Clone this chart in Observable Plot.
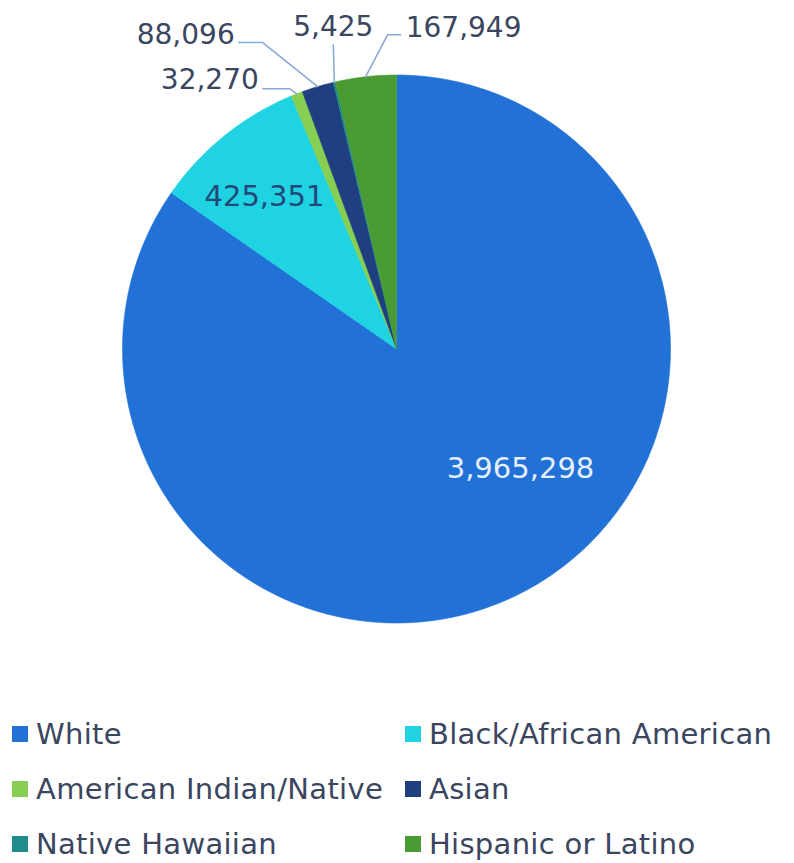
<!DOCTYPE html>
<html><head><meta charset="utf-8">
<script src="https://cdn.jsdelivr.net/npm/d3@7"></script>
<script src="https://cdn.jsdelivr.net/npm/@observablehq/plot@0.6"></script>
<style>
body{margin:0;background:#fff;font-family:"DejaVu Sans",sans-serif;}
#legend{display:grid;grid-template-columns:393px 389px;padding-left:12px;}
.item{height:55px;display:flex;align-items:center;font-size:29px;color:#3a4560;white-space:nowrap;letter-spacing:0.3px;}
.sw{width:16px;height:16px;margin-right:8px;flex:none;}
</style></head>
<body>
<div id="chart"></div>
<div id="legend"></div>
<script>
const categories = ["White","Black/African American","American Indian/Native","Asian","Native Hawaiian","Hispanic or Latino"];
const values = [3965298, 425351, 32270, 88096, 5425, 167949];
const colors = ["#2171d6","#1fd3e3","#86cf52","#1f3f80","#1f8b8c","#4b9b35"];
const labels = ["3,965,298","425,351","32,270","88,096","5,425","167,949"];

const W = 794, H = 706, cx = 396, cy = 348.5, R = 274;
const rows = categories.map((c, i) => ({cat: c, value: values[i], label: labels[i]}));
const arcs = d3.pie().sort(null).value(d => d.value)(rows);

// slice polygons (unit radius, y up)
const pts = [];
for (const a of arcs) {
  pts.push({cat: a.data.cat, x: 0, y: 0});
  const n = Math.max(2, Math.ceil((a.endAngle - a.startAngle) / 0.004));
  for (let k = 0; k <= n; k++) {
    const t = a.startAngle + (a.endAngle - a.startAngle) * k / n;
    pts.push({cat: a.data.cat, x: Math.sin(t), y: Math.cos(t)});
  }
  pts.push({cat: a.data.cat, x: 0, y: 0});
}

// layout (pixel offsets) for outside labels: elbow, end of leader, text offset from end, anchor
const outsideLayout = {
  "American Indian/Native": {elbow: [-7, -5], end: [-34, -5], text: [-4, -9], anchor: "end"},
  "Asian": {elbow: [-55, -44], end: [-79, -44], text: [-4, -8], anchor: "end"},
  "Native Hawaiian": {elbow: [-1, -37], end: [-1, -37], text: [0, -18], anchor: "middle"},
  "Hispanic or Latino": {elbow: [22, -42], end: [35, -42], text: [5, -7], anchor: "start"}
};
// inside labels in polar form (degrees clockwise from top, fraction of radius)
const insideLayout = {
  "White": {angle: 133.9, r: 0.628, color: "#e6effa"},
  "Black/African American": {angle: 319.1, r: 0.736, color: "#24477a"}
};

const leaderPts = [], outText = [], inText = [];
for (const a of arcs) {
  const c = a.data.cat;
  const mid = (a.startAngle + a.endAngle) / 2;
  const ex = Math.sin(mid), ey = Math.cos(mid);
  if (outsideLayout[c]) {
    const L = outsideLayout[c];
    leaderPts.push({cat: c, x: ex, y: ey});
    leaderPts.push({cat: c, x: ex + L.elbow[0] / R, y: ey - L.elbow[1] / R});
    leaderPts.push({cat: c, x: ex + L.end[0] / R, y: ey - L.end[1] / R});
    outText.push({label: a.data.label, anchor: L.anchor,
      x: ex + (L.end[0] + L.text[0]) / R, y: ey - (L.end[1] + L.text[1]) / R});
  } else if (insideLayout[c]) {
    const L = insideLayout[c], t = L.angle * Math.PI / 180;
    inText.push({label: a.data.label, color: L.color, x: L.r * Math.sin(t), y: L.r * Math.cos(t)});
  }
}

const font = "'DejaVu Sans', sans-serif";
const plot = Plot.plot({
  width: W, height: H, margin: 0,
  x: {domain: [-cx / R, (W - cx) / R], range: [0, W], axis: null},
  y: {domain: [-(H - cy) / R, cy / R], range: [H, 0], axis: null},
  color: {domain: categories, range: colors},
  style: {fontFamily: font, background: "white"},
  marks: [
    Plot.line(pts, {x: "x", y: "y", z: "cat", fill: "cat", stroke: "cat", strokeWidth: 0.6, curve: "linear"}),
    Plot.line(leaderPts, {x: "x", y: "y", z: "cat", stroke: "#8aa9d9", strokeWidth: 1.6, curve: "linear"}),
    ...["start", "middle", "end"].map(anc => Plot.text(outText.filter(d => d.anchor === anc), {
      x: "x", y: "y", text: "label", textAnchor: anc, fontSize: 28, fill: "#3a4560"})),
    Plot.text(inText, {x: "x", y: "y", text: "label", fill: d => d.color, fontSize: 29})
  ]
});
document.getElementById("chart").appendChild(plot);

const leg = document.getElementById("legend");
categories.forEach((c, i) => {
  const it = document.createElement("div");
  it.className = "item";
  it.innerHTML = `<span class="sw" style="background:${colors[i]}"></span><span>${c}</span>`;
  leg.appendChild(it);
});
</script>
</body></html>
